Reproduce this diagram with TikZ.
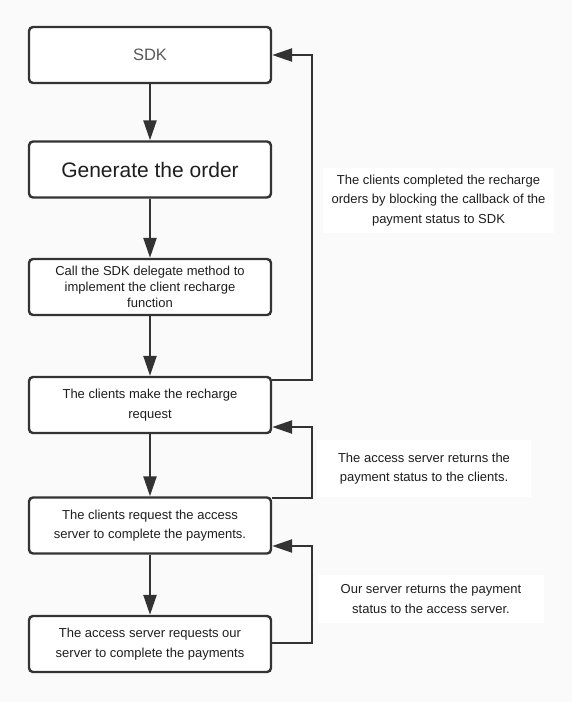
\documentclass[tikz,border=0pt]{standalone}
\usepackage{fontspec}
\setmainfont{Liberation Sans}
\usetikzlibrary{arrows.meta,positioning}
\definecolor{linegray}{HTML}{333333}
\definecolor{bggray}{HTML}{FAFAFA}
\definecolor{textgray}{HTML}{1E1E1E}
\tikzset{
    flowbox/.style={
           rectangle,
           rounded corners=4pt,
           draw=linegray, line width=2.4pt,
           fill=white,
           minimum width=242pt,
           minimum height=56pt,
           inner sep=2pt,
           align=center,
           text=textgray,
           font=\fontsize{13}{19.5}\selectfont,
           },
    notebox/.style={
           rectangle,
           fill=white,
           inner sep=0pt,
           align=center,
           text=textgray,
           font=\fontsize{13}{19.5}\selectfont,
           },
    flow/.style={
           draw=linegray, line width=2.4pt,
           -{Triangle[length=20pt,width=13pt]},
           },
}

\begin{document}
\begin{tikzpicture}
        % background and page size
        \useasboundingbox (0,0) rectangle (572pt,-702pt);
        \fill[bggray] (0,0) rectangle (572pt,-702pt);

        % STEP SDK
        \node[flowbox,
            text=black!65,
            font=\fontsize{16.5}{20}\selectfont] (SDK) at (150pt,-55pt)
        {SDK};

        % STEP ORDER
        \node[flowbox,
            below=56.1pt of SDK,
            font=\fontsize{21}{25}\selectfont] (ORDER)
        {Generate the order};

        % STEP DELEGATE
        \node[flowbox,
            below=59.1pt of ORDER,
            font=\fontsize{13}{16}\selectfont] (DELEGATE)
        {Call the SDK delegate method to\\
         implement the client recharge\\
         function};

        % STEP CLIENT REQUEST
        \node[flowbox,
            below=59.6pt of DELEGATE] (CL_MAKE)
        {The clients make the recharge\\
         request};

        % STEP CLIENT TO ACCESS SERVER
        \node[flowbox,
            below=62.1pt of CL_MAKE] (CL_ACCESS)
        {The clients request the access\\
         server to complete the payments.};

        % STEP ACCESS SERVER TO OUR SERVER
        \node[flowbox,
            below=60.1pt of CL_ACCESS] (ACC_OUR)
        {The access server requests our\\
         server to complete the payments};

        % notes beside the return paths
        \node[notebox, minimum width=231pt, minimum height=65pt] (NOTE_SDK) at (438.5pt,-200.5pt)
        {The clients completed the recharge\\
         orders by blocking the callback of the\\
         payment status to SDK};
        \node[notebox, minimum width=214pt, minimum height=57pt] (NOTE_CL) at (424pt,-468.5pt)
        {The access server returns the\\
         payment status to the clients.};
        \node[notebox, minimum width=226pt, minimum height=48pt] (NOTE_ACC) at (431pt,-599pt)
        {Our server returns the payment\\
         status to the access server.};

        % forward path
        \draw[flow] (SDK) -- (ORDER);
        \draw[flow] (ORDER) -- (DELEGATE);
        \draw[flow] (DELEGATE) -- (CL_MAKE);
        \draw[flow] (CL_MAKE) -- (CL_ACCESS);
        \draw[flow] (CL_ACCESS) -- (ACC_OUR);

        % return paths
        \draw[flow] ([yshift=25pt]CL_MAKE.east) -- ++(40pt,0) |- (SDK.east);
        \draw[flow] ([yshift=27.5pt]CL_ACCESS.east) -- ++(40pt,0) |- ([yshift=-22pt]CL_MAKE.east);
        \draw[flow] ([yshift=1pt]ACC_OUR.east) -- ++(40pt,0) |- ([yshift=-20.5pt]CL_ACCESS.east);

\end{tikzpicture}
\end{document}
